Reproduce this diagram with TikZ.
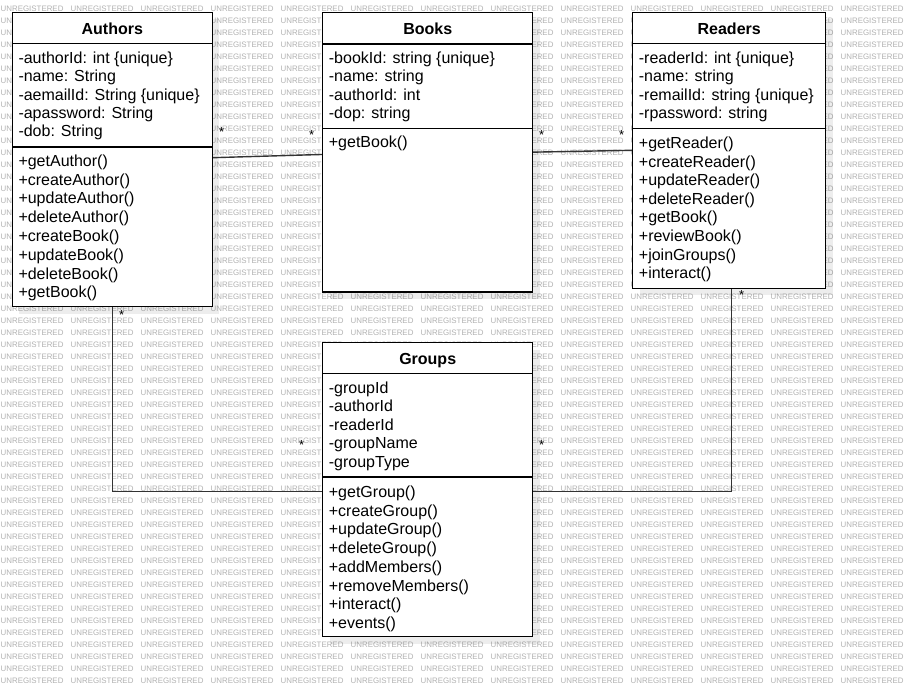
\documentclass[tikz,border=0pt]{standalone}
\usepackage{fontspec}
\setmainfont{Liberation Sans}
\usetikzlibrary{shadows}

\begin{document}
\begin{tikzpicture}[x=1pt,y=-1pt,
  wm/.style={anchor=west, inner sep=0pt, font=\fontsize{7.9}{8}\selectfont, text=black!30},
  umlbox/.style={draw=black, line width=1.2pt, fill=white, anchor=north west,
    inner sep=0pt, outer sep=0pt,
    drop shadow={shadow xshift=7pt, shadow yshift=-7pt, fill=black, opacity=0.07}},
  divider/.style={draw=black, line width=1.2pt},
  classtitle/.style={anchor=base, inner sep=0pt, font=\fontsize{16}{19}\selectfont\bfseries},
  member/.style={anchor=base west, inner sep=0pt, font=\fontsize{16}{19}\selectfont},
  assoc/.style={draw=black!80, line width=1.4pt},
  mult/.style={inner sep=0pt, font=\fontsize{13}{13}\selectfont},
]
\useasboundingbox (0,0) rectangle (907,687);
\fill[white] (0,0) rectangle (907,687);

% tiled background lettering
\foreach \r in {0,...,56} {
  \foreach \c in {0,...,12} {
    \node[wm] (wm-\r-\c) at ({70*\c+0.5},{9+12*\r}) {UNREGISTERED};
  }
}

% class boxes
\node[umlbox, minimum width=200pt, minimum height=294.4pt] (A) at (12.3,12.3) {};
\node[umlbox, minimum width=210pt, minimum height=279.7pt] (B) at (322.7,12.3) {};
\node[umlbox, minimum width=193pt, minimum height=276pt]   (R) at (632.7,12.3) {};
\node[umlbox, minimum width=210pt, minimum height=294pt]   (G) at (322.7,342.7) {};

% associations
\draw[assoc] ([yshift=1.8pt]A.east) -- ([yshift=-2.3pt]B.west);
\draw[assoc] (B.east) -- (R.west);
\draw[assoc] (A.south) |- ([yshift=-1.5pt]G.west);
\draw[assoc] ([xshift=2.5pt]R.south) |- ([yshift=-1.5pt]G.east);

% redraw box borders over the connector ends
\foreach \b in {A,B,R,G} { \draw[line width=1.2pt] (\b.north west) rectangle (\b.south east); }

% compartment separators
\draw[divider] (12.3,43.5) -- (212.3,43.5);
\draw[divider] (12.3,147) -- (212.3,147);
\draw[divider] (322.7,44) -- (532.7,44);
\draw[divider] (322.7,128.7) -- (532.7,128.7);
\draw[divider] (632.7,43.3) -- (825.7,43.3);
\draw[divider] (632.7,128.3) -- (825.7,128.3);
\draw[divider] (322.7,373.7) -- (532.7,373.7);
\draw[divider] (322.7,477) -- (532.7,477);

% class names
\node[classtitle] (At) at (112.3,34.3) {Authors};
\node[classtitle] (Bt) at (427.7,34.3) {Books};
\node[classtitle] (Rt) at (729.2,34.3) {Readers};
\node[classtitle] (Gt) at (427.7,364.5) {Groups};

% Authors members
\foreach \t [count=\i from 0] in {{-authorId: int \{unique\}},{-name: String},{-aemailId: String \{unique\}},{-apassword: String},{-dob: String}}
  \node[member] (Aa\i) at (18.3,{63.5+18.35*\i}) {\t};
\foreach \t [count=\i from 0] in {{+getAuthor()},{+createAuthor()},{+updateAuthor()},{+deleteAuthor()},{+createBook()},{+updateBook()},{+deleteBook()},{+getBook()}}
  \node[member] (Am\i) at (18.3,{166.5+18.75*\i}) {\t};

% Books members
\foreach \t [count=\i from 0] in {{-bookId: string \{unique\}},{-name: string},{-authorId: int},{-dop: string}}
  \node[member] (Ba\i) at (328.7,{63.5+18.5*\i}) {\t};
\node[member] (Bm0) at (328.7,147.5) {+getBook()};

% Readers members
\foreach \t [count=\i from 0] in {{-readerId: int \{unique\}},{-name: string},{-remailId: string \{unique\}},{-rpassword: string}}
  \node[member] (Ra\i) at (638.7,{63.5+18.5*\i}) {\t};
\foreach \t [count=\i from 0] in {{+getReader()},{+createReader()},{+updateReader()},{+deleteReader()},{+getBook()},{+reviewBook()},{+joinGroups()},{+interact()}}
  \node[member] (Rm\i) at (638.7,{148.5+18.6*\i}) {\t};

% Groups members
\foreach \t [count=\i from 0] in {{-groupId},{-authorId},{-readerId},{-groupName},{-groupType}}
  \node[member] (Ga\i) at (328.7,{393+18.65*\i}) {\t};
\foreach \t [count=\i from 0] in {{+getGroup()},{+createGroup()},{+updateGroup()},{+deleteGroup()},{+addMembers()},{+removeMembers()},{+interact()},{+events()}}
  \node[member] (Gm\i) at (328.7,{497.5+18.7*\i}) {\t};

% multiplicities
\node[mult] (m1) at (221.7,131.8) {*};
\node[mult] (m2) at (311.7,135.5) {*};
\node[mult] (m3) at (541.7,135.5) {*};
\node[mult] (m4) at (621.7,135.5) {*};
\node[mult] (m5) at (121.7,315.5) {*};
\node[mult] (m6) at (301.7,445.5) {*};
\node[mult] (m7) at (741.7,295.5) {*};
\node[mult] (m8) at (541.7,445.1) {*};
\end{tikzpicture}
\end{document}
